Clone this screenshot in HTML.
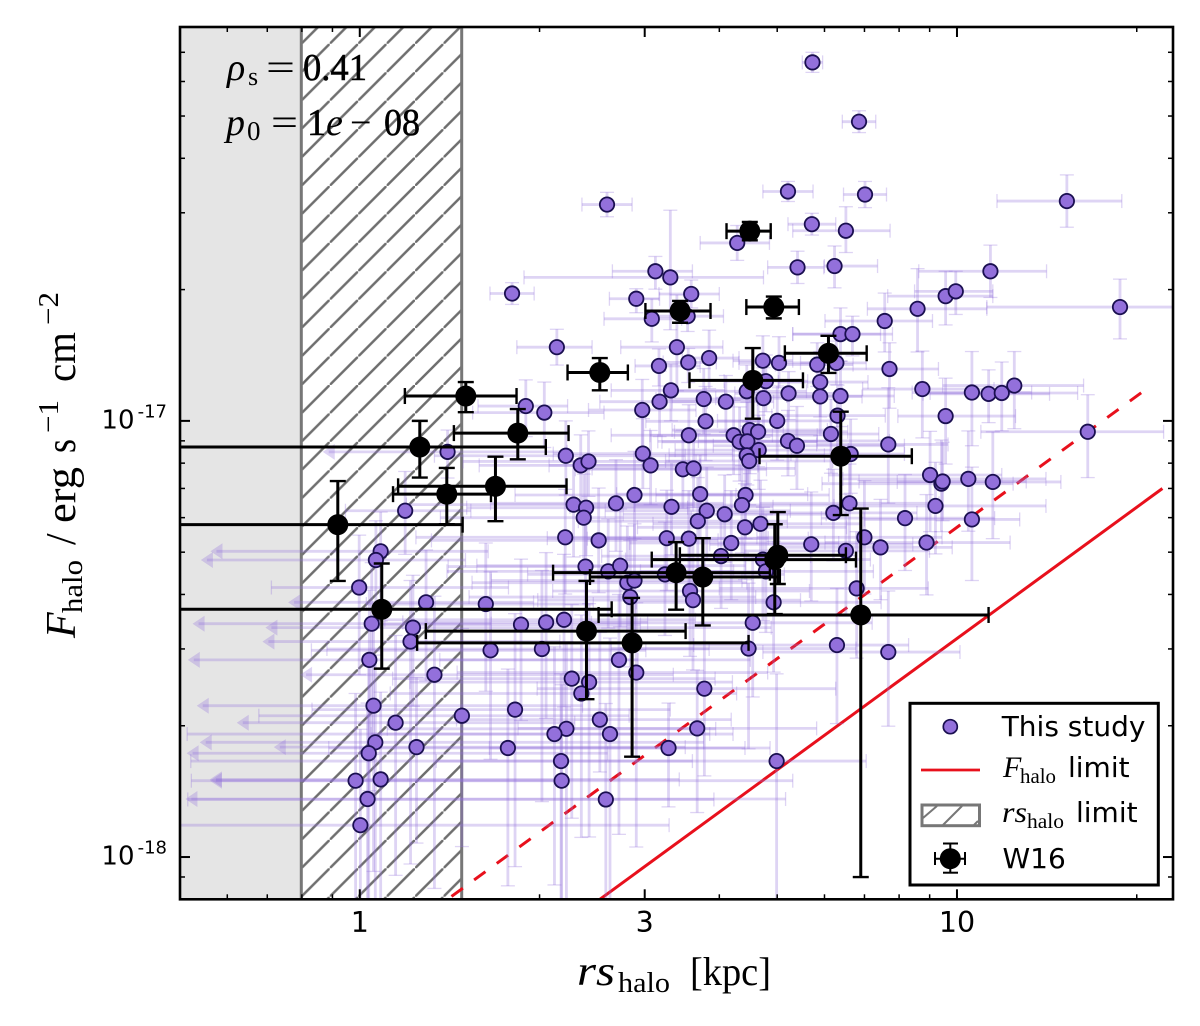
<!DOCTYPE html>
<html lang="en">
<head>
<meta charset="utf-8">
<title>Halo flux versus halo radius</title>
<style>
html,body{margin:0;padding:0;background:#fff;}
svg{display:block;}
.math{font-family:"Liberation Serif",serif;fill:#000;}
.sans{font-family:"DejaVu Sans",sans-serif;fill:#000;}
</style>
</head>
<body>
<svg id="chart" xmlns="http://www.w3.org/2000/svg" width="1200" height="1026" viewBox="0 0 1200 1026">
  <defs>
    <clipPath id="plot-clip"><rect x="180" y="27" width="993" height="872.3"/></clipPath>
    <pattern id="hatch" patternUnits="userSpaceOnUse" width="28.43" height="28.43" patternTransform="translate(301.3 868.27)">
      <line x1="-2" y1="30.43" x2="30.43" y2="-2" stroke="#6e6e6e" stroke-width="2.5"/>
    </pattern>
  </defs>
  <rect x="180" y="27" width="993" height="872.3" fill="#fff"/>
  <rect x="180" y="27" width="121.3" height="872.3" fill="#e5e5e5"/>
  <g>
    <rect x="301.3" y="27" width="160.4" height="872.3" fill="url(#hatch)"/>
    <line x1="301.3" y1="27" x2="301.3" y2="899.3" stroke="#777" stroke-width="3"/>
    <line x1="461.7" y1="27" x2="461.7" y2="899.3" stroke="#777" stroke-width="3"/>
  </g>
  <g id="limit-lines" clip-path="url(#plot-clip)"></g>
  <g id="study-errors" clip-path="url(#plot-clip)"></g>
  <g id="study-points" clip-path="url(#plot-clip)"></g>
  <g id="w16-layer" clip-path="url(#plot-clip)"></g>

  <g>
    <g>
      <text class="math" x="227" y="80" font-size="38" font-style="italic">ρ</text>
      <text class="math" x="248" y="85" font-size="26">s</text>
      <text class="math" x="266" y="80" font-size="38" textLength="29" lengthAdjust="spacingAndGlyphs">=</text>
      <text class="math" x="303" y="80" font-size="38" textLength="64" lengthAdjust="spacingAndGlyphs" stroke="#000" stroke-width="0.5">0.41</text>
    </g>
    <g>
      <text class="math" x="226" y="135" font-size="38" font-style="italic">p</text>
      <text class="math" x="247" y="140" font-size="27">0</text>
      <text class="math" x="271" y="135" font-size="38" textLength="27" lengthAdjust="spacingAndGlyphs">=</text>
      <text class="math" x="307" y="135" font-size="38" stroke="#000" stroke-width="0.5">1</text>
      <text class="math" x="326" y="135" font-size="38" font-style="italic">e</text>
      <text class="math" x="350" y="135" font-size="38">−</text>
      <text class="math" x="384" y="135" font-size="38" textLength="36" lengthAdjust="spacingAndGlyphs" stroke="#000" stroke-width="0.5">08</text>
    </g>
  </g>

  <rect x="180" y="27" width="993" height="872.3" fill="none" stroke="#000" stroke-width="2.6"/>
  <g id="axis-ticks"></g>
  <g id="axis-labels"></g>

  <g>
    <text class="math" x="577" y="985" font-size="42" font-style="italic" textLength="38" lengthAdjust="spacingAndGlyphs">rs</text>
    <text class="math" x="618" y="992" font-size="29" textLength="52" lengthAdjust="spacingAndGlyphs">halo</text>
    <text class="math" x="690" y="985" font-size="40" textLength="81" lengthAdjust="spacingAndGlyphs">[kpc]</text>
  </g>

  <g transform="translate(75 640) rotate(-90)">
    <text class="math" x="2" y="0" font-size="42" font-style="italic">F</text>
    <text class="math" x="27" y="7" font-size="29" textLength="53" lengthAdjust="spacingAndGlyphs">halo</text>
    <text class="math" x="95" y="0" font-size="42">/</text>
    <text class="math" x="117" y="0" font-size="42" textLength="56" lengthAdjust="spacingAndGlyphs">erg</text>
    <text class="math" x="187" y="0" font-size="42" textLength="14" lengthAdjust="spacingAndGlyphs">s</text>
    <text class="math" x="207" y="-17" font-size="29" textLength="33" lengthAdjust="spacingAndGlyphs">−1</text>
    <text class="math" x="258" y="0" font-size="42" textLength="50" lengthAdjust="spacingAndGlyphs">cm</text>
    <text class="math" x="315" y="-17" font-size="29" textLength="33" lengthAdjust="spacingAndGlyphs">−2</text>
  </g>

  <g>
    <rect x="910" y="703.3" width="248.3" height="181.7" fill="#fff" stroke="#000" stroke-width="3"/>
    <circle cx="950.3" cy="726.7" r="7" fill="#9370db" stroke="#1a0f50" stroke-width="1.7"/>
    <text class="sans" x="1001.7" y="736" font-size="28">This study</text>
    <line x1="921" y1="770" x2="980" y2="770" stroke="#e8101c" stroke-width="2.8"/>
    <g>
      <text class="math" x="1003" y="777" font-size="30" font-style="italic">F</text>
      <text class="math" x="1020" y="783" font-size="21" textLength="36" lengthAdjust="spacingAndGlyphs">halo</text>
      <text class="sans" x="1068" y="777" font-size="28">limit</text>
    </g>
    <g>
      <rect x="922" y="805" width="57.5" height="20.7" fill="#fff" stroke="#777" stroke-width="3"/>
      <line x1="923" y1="818" x2="937" y2="806" stroke="#777" stroke-width="2"/>
      <line x1="943" y1="825" x2="962" y2="806" stroke="#777" stroke-width="2"/>
      <line x1="974" y1="825" x2="978" y2="821" stroke="#777" stroke-width="2"/>
    </g>
    <g>
      <text class="math" x="1002" y="822" font-size="30" font-style="italic" textLength="25" lengthAdjust="spacingAndGlyphs">rs</text>
      <text class="math" x="1027" y="828" font-size="21" textLength="37" lengthAdjust="spacingAndGlyphs">halo</text>
      <text class="sans" x="1076" y="822" font-size="28">limit</text>
    </g>
    <g stroke="#000" stroke-width="2">
      <line x1="935" y1="858.7" x2="965" y2="858.7"/>
      <line x1="950.3" y1="843.5" x2="950.3" y2="872.7"/>
      <line x1="935" y1="852" x2="935" y2="865"/>
      <line x1="965" y1="852" x2="965" y2="865"/>
      <line x1="943" y1="843.5" x2="958" y2="843.5"/>
      <line x1="943" y1="872.7" x2="958" y2="872.7"/>
      <circle cx="950.3" cy="858.7" r="10.5" fill="#000" stroke="none"/>
    </g>
    <text class="sans" x="1002.5" y="868" font-size="28">W16</text>
  </g>
</svg>
<script>
// Axis limits (rs in kpc, flux in erg/s/cm2)
const rsLimits = [0.5, 23];
const fluxLimits = [8e-19, 8e-17];

// Tick values and labels
const xMajorTicks = [1, 3, 10];
const xMajorLabels = ['1', '3', '10'];
const xMinorTicks = [0.6, 0.7, 0.8, 0.9, 2, 4, 5, 6, 7, 8, 9, 20];
const yMajorTicks = [1e-17, 1e-18];
const yMajorExponents = ['-17', '-18'];
const yMinorTicks = [9e-19, 2e-18, 3e-18, 4e-18, 5e-18, 6e-18, 7e-18, 8e-18, 9e-18, 2e-17, 3e-17, 4e-17, 5e-17, 6e-17, 7e-17];

// This study: log10(rs / kpc), log10(flux), and errors in dex
const studyLogRs = [
 .758,.836,.717,.846,.757,.814,.414,.632,.733,.795,
 .495,.520,.255,.555,.463,.489,.549,.531,.330,.585,
 .501,.550,.675,.702,.805,.825,.766,.798,.879,.887,
 .521,.576,.613,.502,.473,.680,.648,.676,.718,.771,
 .771,.805,.800,.278,.309,.579,.699,
 1.184,1.056,.981,.998,.934,1.273,.942,1.025,1.053,1.075,1.096,.981,1.219,.885,.822,
 .789,
 .551,.626,.653,.667,.636,.649,.668,.648,.652,.717,.732,.345,.370,.383,.474,.487,.541,.559,
 .646,.640,.570,.581,.566,.611,.522,.460,.429,.358,.379,.375,.793,.820,.913,.955,.974,.976,
 1.019,1.060,.964,1.025,.845,.872,.949,.814,.756,.645,.671,.622,.605,.551,.514,.344,.400,
 .378,.416,.436,.448,.460,.453,.511,.675,.680,.553,.558,.693,.658,.832,.342,.651,.799,.885,
 .434,.463,.355,.384,.371,.577,.219,.305,.260,.171,.402,.419,.346,.326,.565,.517,.248,.337,
 .338,.698,.412,.076,-.001,.211,.270,.312,.001
];
const studyLogFlux = [
 -16.178,-16.314,-16.474,-16.481,-16.549,-16.564,-16.504,-16.592,-16.648,-16.645,
 -16.657,-16.671,-16.708,-16.709,-16.720,-16.766,-16.760,-16.831,-16.831,-16.856,
 -16.874,-16.866,-16.862,-16.867,-16.801,-16.801,-16.871,-16.867,-16.771,-16.881,
 -16.930,-16.950,-16.956,-16.956,-16.975,-16.909,-16.932,-16.948,-16.937,-16.911,
 -16.944,-16.943,-16.988,-16.966,-16.981,-17.001,-17.000,
 -16.496,-16.657,-16.714,-16.703,-16.743,-16.739,-16.927,-16.935,-16.938,-16.936,-16.919,-16.989,-17.025,-17.054,-17.076,
 -17.030,
 -17.033,-17.033,-17.021,-17.025,-17.048,-17.047,-17.067,-17.079,-17.092,-17.046,-17.057,-17.080,-17.102,-17.093,-17.075,-17.102,-17.111,-17.109,
 -17.170,-17.193,-17.168,-17.206,-17.230,-17.214,-17.197,-17.170,-17.189,-17.192,-17.199,-17.222,-17.211,-17.189,-17.223,-17.124,-17.144,-17.139,
 -17.133,-17.140,-17.195,-17.226,-17.267,-17.290,-17.279,-17.298,-17.283,-17.244,-17.236,-17.280,-17.310,-17.270,-17.269,-17.267,-17.274,
 -17.334,-17.345,-17.332,-17.371,-17.366,-17.404,-17.352,-17.318,-17.345,-17.390,-17.411,-17.416,-17.463,-17.384,-17.456,-17.522,-17.514,-17.530,
 -17.548,-17.577,-17.591,-17.599,-17.625,-17.614,-17.526,-17.523,-17.662,-17.676,-17.685,-17.718,-17.706,-17.718,-17.705,-17.750,-17.750,-17.780,
 -17.825,-17.780,-17.868,-17.206,-17.382,-17.420,-17.467,-17.462,-17.927
];
const studyXMinus = [
 .017,.028,.042,.036,.04,.089,.042,.062,.05,.017,
 .072,.245,.037,.054,.045,.08,.06,.094,.067,.045,
 .04,.042,.05,.067,.08,.10,.07,.06,.10,.11,
 .10,.08,.09,.10,.09,.07,.12,.08,.09,.07,
 .09,.09,.11,.08,.12,.10,.10,
 .117,.12,.097,.069,.084,.223,.10,.10,.11,.12,.12,.08,.179,.12,.10,
 .08,
 .13,.14,.13,.14,.13,.15,.14,.13,.14,.15,.14,.22,.17,.21,.15,.17,.18,.17,
 .15,.18,.14,.17,.20,.17,.17,.20,.21,.28,.20,.24,.17,.15,.14,.17,.20,.14,
 .21,.16,.17,.18,.18,.17,.17,.17,.17,.18,.18,.17,.20,.17,.20,.25,.28,
 .23,.27,.24,.26,.24,.27,.23,.23,.21,.23,.26,.23,.27,.23,.30,.23,.24,.21,
 .30,.30,.30,.30,.32,.28,.30,.36,.34,.34,.24,.40,.30,.615,.30,.30,.30,.62,
 .62,.57,.70,.10,.147,.20,.25,.24,1.0
];
const studyXPlus = [
 .017,.028,.042,.036,.04,.074,.042,.054,.044,.072,
 .062,.156,.037,.047,.039,.05,.06,.077,.059,.05,
 .069,.047,.05,.059,.067,.067,.06,.05,.08,.082,
 .09,.09,.08,.08,.09,.07,.10,.09,.09,.08,
 .07,.09,.08,.07,.10,.12,.10,
 .092,.094,.079,.062,.116,.10,.12,.10,.102,.127,.116,.117,.127,.10,.09,
 .08,
 .14,.14,.13,.15,.13,.14,.15,.13,.14,.17,.18,.20,.20,.18,.15,.18,.14,.17,
 .14,.17,.18,.14,.15,.17,.17,.17,.18,.20,.17,.18,.14,.15,.15,.12,.12,.14,
 .13,.114,.185,.08,.13,.12,.14,.14,.17,.17,.17,.18,.15,.20,.17,.20,.20,
 .20,.21,.21,.20,.18,.21,.20,.18,.18,.20,.18,.18,.20,.12,.22,.18,.12,.12,
 .22,.22,.24,.24,.26,.22,.26,.28,.26,.28,.22,.206,.25,.26,.20,.17,.397,.22,
 .387,.15,.181,.11,.25,.18,.20,.17,.517
];
const studyYMinus = [
 .023,.025,.023,.03,.025,.05,.028,.04,.037,.05,
 .041,.12,.025,.032,.032,.053,.035,.10,.041,.07,
 .046,.046,.046,.057,.062,.05,.05,.05,.071,.09,
 .07,.08,.07,.08,.09,.07,.08,.09,.06,.08,
 .09,.07,.10,.07,.08,.09,.09,
 .06,.06,.066,.053,.099,.073,.112,.122,.066,.087,.099,.11,.105,.135,.09,
 .09,
 .08,.09,.10,.08,.09,.10,.09,.10,.10,.08,.10,.09,.09,.08,.08,.09,.09,.09,
 .10,.11,.10,.11,.12,.11,.11,.10,.11,.12,.11,.12,.11,.12,.12,.13,.11,.09,
 .12,.13,.11,.14,.13,.12,.12,.15,.13,.12,.11,.13,.12,.13,.12,.13,.12,
 .14,.13,.14,.15,.15,.16,.14,.14,.14,.15,.16,.16,.17,.16,.20,.23,.18,.17,
 .40,.40,.32,.355,.33,.20,.25,.35,.36,.30,.12,.40,.40,.346,.193,.135,.316,.40,
 .35,.40,.30,.10,.20,.20,.22,.22,.25
];
const studyYPlus = [
 .023,.025,.023,.03,.025,.055,.028,.04,.037,.046,
 .034,.154,.025,.032,.023,.046,.035,.12,.041,.064,
 .039,.032,.057,.06,.06,.041,.05,.05,.064,.06,
 .06,.07,.06,.07,.07,.06,.06,.07,.05,.07,
 .08,.08,.07,.06,.07,.08,.08,
 .06,.06,.057,.046,.092,.064,.087,.094,.055,.071,.078,.087,.085,.13,.08,
 .08,
 .07,.08,.08,.07,.08,.09,.08,.08,.09,.07,.09,.08,.07,.07,.08,.08,.09,.08,
 .09,.09,.09,.10,.10,.09,.10,.10,.10,.10,.10,.10,.10,.09,.10,.10,.10,.09,
 .11,.115,.10,.12,.13,.11,.11,.13,.12,.10,.10,.12,.11,.11,.11,.11,.12,
 .13,.12,.13,.13,.13,.13,.12,.12,.13,.13,.14,.14,.15,.13,.15,.15,.13,.14,
 .15,.16,.17,.18,.18,.15,.18,.18,.22,.20,.20,.22,.20,.20,.133,.103,.181,.20,
 .22,.20,.22,.09,.12,.14,.15,.16,.22
];

// This study: size upper limits, drawn with a left-pointing arrow
const limitLogRs = [.147,.035,.027,.111,.020,.089,.085,.016,.125,.023,.060,.026,.015,.095,-.007,.035,.013];
const limitLogFlux = [-17.071,-17.299,-17.319,-17.416,-17.465,-17.474,-17.506,-17.548,-17.582,-17.653,-17.692,-17.737,-17.762,-17.748,-17.825,-17.822,-17.867];
const limitArrowDex = [.209,.285,.293,.231,.30,.247,.248,.304,.225,.296,.266,.294,.305,.239,.244,.286,.305];
const limitXPlus = [.20,.18,.15,.18,.20,.60,.25,.45,.40,.35,.30,.55,.40,.45,.35,.50,.70];
const limitYMinus = [.06,.16,.14,.18,.30,.18,.51,.30,.49,.38,.35,.36,.34,.22,.30,.28,.25];
const limitYPlus = [.05,.09,.09,.12,.14,.12,.14,.16,.18,.18,.20,.20,.20,.16,.20,.20,.22];

// W16 comparison sample
const w16LogRs = [.1775,.2646,.1005,.2272,.1457,-.0368,.0368,.3796,.456,.5297,.5744,.6949,.70,.8389,.8054,.6581,.7848,.4019,.5363,.6933,.6531];
const w16LogFlux = [-16.943,-17.028,-17.060,-17.150,-17.168,-17.238,-17.432,-17.482,-17.509,-17.348,-17.358,-17.318,-17.308,-17.445,-17.081,-16.907,-16.845,-16.889,-16.748,-16.739,-16.565];
const w16XMinus = [.102,.107,1.0,.163,.090,1.0,1.0,.269,.360,.206,.189,.206,.164,.439,.136,.106,.073,.054,.058,.046,.039];
const w16XPlus = [.085,.085,.211,.119,.074,.209,.385,.166,.195,.157,.129,.136,.114,.214,.119,.084,.064,.047,.051,.042,.035];
const w16YMinus = [.037,.060,.070,.080,.069,.129,.136,.156,.261,.085,.111,.125,.066,.601,.135,.088,.045,.041,.027,.026,.021];
const w16YPlus = [.032,.055,.060,.068,.060,.100,.105,.115,.103,.070,.089,.081,.099,.244,.102,.074,.040,.033,.023,.024,.021];

// Flux limit lines: log10(rs) endpoints and log10(flux) at rs = 1 kpc
const solidLimitLogRs = [.30, 1.344];
const solidLimitOffset = -18.499;
const dashedLimitLogRs = [.1536, 1.3257];
const dashedLimitOffset = -18.244;

const NS = 'http://www.w3.org/2000/svg';
const plot = { left: 180, right: 1173, top: 27, bottom: 899.3 };
const logXMin = Math.log10(rsLimits[0]);
const logXMax = Math.log10(rsLimits[1]);
const logYMin = Math.log10(fluxLimits[0]);
const logYMax = Math.log10(fluxLimits[1]);

function xScale(logRs) {
  return plot.left + (logRs - logXMin) / (logXMax - logXMin) * (plot.right - plot.left);
}
function yScale(logFlux) {
  return plot.bottom - (logFlux - logYMin) / (logYMax - logYMin) * (plot.bottom - plot.top);
}
function make(tag, attrs, parent) {
  const el = document.createElementNS(NS, tag);
  for (const key in attrs) el.setAttribute(key, attrs[key]);
  parent.appendChild(el);
  return el;
}
function seg(parent, x1, y1, x2, y2, stroke, width) {
  return make('line', { x1: x1, y1: y1, x2: x2, y2: y2, stroke: stroke, 'stroke-width': width }, parent);
}

const STUDY_FILL = '#9370db';
const STUDY_EDGE = '#1a0f50';
const ERR_COLOR = 'rgba(147,112,219,0.3)';
const studyErrors = document.getElementById('study-errors');
const studyPoints = document.getElementById('study-points');

function drawErrorBars(parent, cx, cy, xLo, xHi, yLo, yHi, color, width, capWidth, capHalf, leftCap) {
  seg(parent, xLo, cy, xHi, cy, color, width);
  seg(parent, cx, yLo, cx, yHi, color, width);
  if (leftCap) seg(parent, xLo, cy - capHalf, xLo, cy + capHalf, color, capWidth);
  seg(parent, xHi, cy - capHalf, xHi, cy + capHalf, color, capWidth);
  seg(parent, cx - capHalf, yLo, cx + capHalf, yLo, color, capWidth);
  seg(parent, cx - capHalf, yHi, cx + capHalf, yHi, color, capWidth);
}

studyLogRs.forEach(function (lr, i) {
  const cx = xScale(lr);
  const cy = yScale(studyLogFlux[i]);
  const g = make('g', {}, studyErrors);
  
  
  drawErrorBars(g, cx, cy,
    xScale(lr - studyXMinus[i]), xScale(lr + studyXPlus[i]),
    yScale(studyLogFlux[i] - studyYMinus[i]), yScale(studyLogFlux[i] + studyYPlus[i]),
    ERR_COLOR, 2.8, 1.3, 7, true);
  const dot = make('circle', { cx: cx, cy: cy, r: 7.2, fill: STUDY_FILL, stroke: STUDY_EDGE, 'stroke-width': 1.8 }, studyPoints);
  
  
});

limitLogRs.forEach(function (lr, i) {
  const cx = xScale(lr);
  const cy = yScale(limitLogFlux[i]);
  const tip = xScale(lr - limitArrowDex[i]);
  const g = make('g', {}, studyErrors);
  
  
  drawErrorBars(g, cx, cy,
    tip + 6, xScale(lr + limitXPlus[i]),
    yScale(limitLogFlux[i] - limitYMinus[i]), yScale(limitLogFlux[i] + limitYPlus[i]),
    ERR_COLOR, 2.8, 1.3, 7, false);
  make('polygon', {
    points: tip + ',' + cy + ' ' + (tip + 12) + ',' + (cy - 8) + ' ' + (tip + 12) + ',' + (cy + 8),
    fill: 'rgba(147,112,219,0.3)'
  }, g);
  const dot = make('circle', { cx: cx, cy: cy, r: 7.2, fill: STUDY_FILL, stroke: STUDY_EDGE, 'stroke-width': 1.8 }, studyPoints);
  
  
});

const w16Layer = document.getElementById('w16-layer');
w16LogRs.forEach(function (lr, i) {
  const cx = xScale(lr);
  const cy = yScale(w16LogFlux[i]);
  const g = make('g', {}, w16Layer);
  
  
  drawErrorBars(g, cx, cy,
    xScale(lr - w16XMinus[i]), xScale(lr + w16XPlus[i]),
    yScale(w16LogFlux[i] - w16YMinus[i]), yScale(w16LogFlux[i] + w16YPlus[i]),
    '#000', 3, 2.4, 8, true);
  const dot = make('circle', { cx: cx, cy: cy, r: 10.5, fill: '#000' }, w16Layer);
  
  
});

const limitLines = document.getElementById('limit-lines');
const solidLine = make('line', {
  x1: xScale(solidLimitLogRs[0]), y1: yScale(solidLimitLogRs[0] + solidLimitOffset),
  x2: xScale(solidLimitLogRs[1]), y2: yScale(solidLimitLogRs[1] + solidLimitOffset),
  stroke: '#e8101c', 'stroke-width': 3
}, limitLines);


const dashedLine = make('line', {
  x1: xScale(dashedLimitLogRs[0]), y1: yScale(dashedLimitLogRs[0] + dashedLimitOffset),
  x2: xScale(dashedLimitLogRs[1]), y2: yScale(dashedLimitLogRs[1] + dashedLimitOffset),
  stroke: '#e8101c', 'stroke-width': 3, 'stroke-dasharray': '14 14'
}, limitLines);



const tickLayer = document.getElementById('axis-ticks');
const labelLayer = document.getElementById('axis-labels');

xMajorTicks.forEach(function (value, i) {
  const x = xScale(Math.log10(value));
  const tickB = seg(tickLayer, x, plot.bottom, x, plot.bottom - 10, '#000', 2);
  
  
  const tickT = seg(tickLayer, x, plot.top, x, plot.top + 10, '#000', 2);
  
  
  const label = make('text', { x: x, y: 932, 'text-anchor': 'middle', class: 'sans', 'font-size': 28.5 }, labelLayer);
  label.textContent = xMajorLabels[i];
  
  
});
xMinorTicks.forEach(function (value) {
  const x = xScale(Math.log10(value));
  const tickB = seg(tickLayer, x, plot.bottom, x, plot.bottom - 5, '#000', 1.5);
  
  
  const tickT = seg(tickLayer, x, plot.top, x, plot.top + 5, '#000', 1.5);
  
  
});
yMajorTicks.forEach(function (value, i) {
  const y = yScale(Math.log10(value));
  const tickL = seg(tickLayer, plot.left, y, plot.left + 10, y, '#000', 2);
  
  
  const tickR = seg(tickLayer, plot.right, y, plot.right - 10, y, '#000', 2);
  
  
  const base = make('text', { x: 134.5, y: y + 7.5, 'text-anchor': 'end', class: 'sans', 'font-size': 26 }, labelLayer);
  base.textContent = '10';
  
  
  const exponent = make('text', { x: 167, y: y - 3.5, 'text-anchor': 'end', class: 'sans', 'font-size': 18 }, labelLayer);
  exponent.textContent = yMajorExponents[i];
  
  
});
yMinorTicks.forEach(function (value) {
  const y = yScale(Math.log10(value));
  const tickL = seg(tickLayer, plot.left, y, plot.left + 5, y, '#000', 1.5);
  
  
  const tickR = seg(tickLayer, plot.right, y, plot.right - 5, y, '#000', 1.5);
  
  
});
</script>
</body>
</html>
